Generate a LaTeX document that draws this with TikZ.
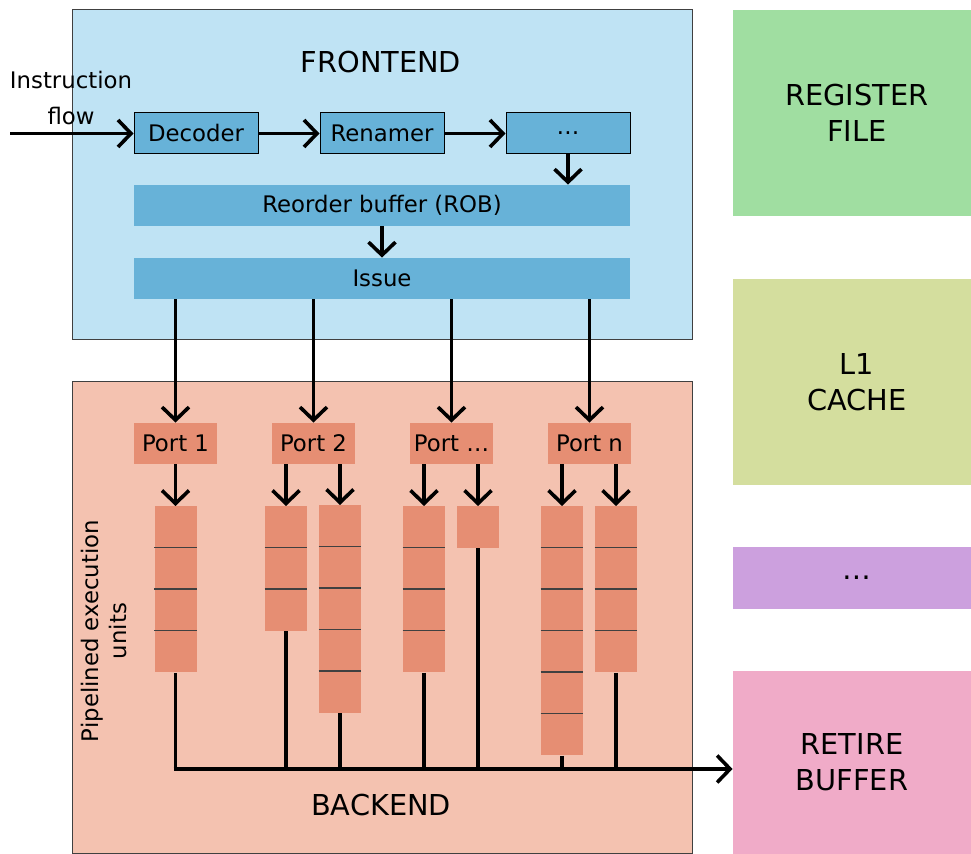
\documentclass[tikz,border=0pt]{standalone}
\usepackage{fontspec}
\setmainfont{DejaVu Sans}
\usetikzlibrary{arrows.meta}

\definecolor{frontbg}{HTML}{BFE3F4}
\definecolor{frontbox}{HTML}{67B2D8}
\definecolor{backbg}{HTML}{F4C2B0}
\definecolor{backbox}{HTML}{E68E73}
\definecolor{regcol}{HTML}{A0DEA1}
\definecolor{cachecol}{HTML}{D4DE9E}
\definecolor{morecol}{HTML}{CCA0DE}
\definecolor{retirecol}{HTML}{F0ABC8}

\tikzset{
  flowarrow/.style={line width=1.8pt, -{Straight Barb[length=6.5pt,width=13.5pt]}},
  busline/.style={line width=1.8pt},
  stageline/.style={draw=black!75, line width=0.6pt},
  small/.style={font=\fontsize{11.4}{18}\selectfont},
  big/.style={font=\fontsize{14.4}{18}\selectfont},
  region/.style={draw=black!75, line width=0.5pt, minimum width=310pt, inner sep=0},
  stagebox/.style={small, fill=frontbox, draw=black, line width=0.5pt, minimum width=62pt, minimum height=20.5pt, inner sep=0},
  widebox/.style={small, fill=frontbox, minimum width=248pt, minimum height=20.5pt, inner sep=0},
  portbox/.style={small, fill=backbox, minimum width=41.5pt, minimum height=20.5pt, inner sep=0},
  unit/.style={fill=backbox, minimum width=21pt, anchor=north, inner sep=0},
  sidebox/.style={big, align=center, minimum width=124pt, inner sep=0}
}

\begin{document}
\begin{tikzpicture}[x=0.5pt, y=-0.5pt]
  \useasboundingbox (0,0) rectangle (971,854);

  % frontend and backend regions
  \node[region, fill=frontbg, minimum height=165pt] (frontend) at (382,175) {};
  \node[region, fill=backbg, minimum height=236pt] (backend) at (382,618) {};
  \node[big] (fronttitle) at (381,62) {FRONTEND};
  \node[big] (backtitle) at (381,805) {BACKEND};

  % right column
  \node[sidebox, fill=regcol, minimum height=103pt] (regfile) at (857,113) {REGISTER\\FILE};
  \node[sidebox, fill=cachecol, minimum height=103pt] (cache) at (857,382) {L1\\CACHE};
  \node[sidebox, fill=morecol, minimum height=31pt] (more) at (857,578) {…};
  \node[sidebox, fill=retirecol, minimum height=91.5pt, minimum width=119pt] (retire) at (852,762.5) {RETIRE\\BUFFER};

  % frontend pipeline
  \node[small, align=center] (flowlabel) at (71,98) {Instruction\\flow};
  \coordinate (flowin) at (10,133.5);
  \node[stagebox] (decoder) at (196,133.5) {Decoder};
  \node[stagebox] (renamer) at (382,133.5) {Renamer};
  \node[stagebox] (more1) at (568,133.5) {…};
  \node[widebox] (rob) at (382,205.5) {Reorder buffer (ROB)};
  \node[widebox] (issue) at (382,278.5) {Issue};

  \draw[flowarrow] (flowin) -- (decoder.west);
  \draw[flowarrow] (decoder) -- (renamer);
  \draw[flowarrow] (renamer) -- (more1);
  \draw[flowarrow] (more1.south) -- (more1.south |- rob.north);
  \draw[flowarrow] (rob) -- (issue);

  % ports
  \node[portbox] (port1) at (175.5,443.5) {Port 1};
  \node[portbox] (port2) at (313.5,443.5) {Port 2};
  \node[portbox] (port3) at (451.5,443.5) {Port …};
  \node[portbox] (portn) at (589.5,443.5) {Port n};

  \foreach \p in {port1,port2,port3,portn}
    \draw[flowarrow] (\p.north |- issue.south) -- (\p.north);

  % execution units
  \node[unit, minimum height=83pt] (unit1) at (175.5,506) {};
  \node[unit, minimum height=62.25pt] (unit2a) at (286,506) {};
  \node[unit, minimum height=103.75pt] (unit2b) at (340,505) {};
  \node[unit, minimum height=83pt] (unit3a) at (424,506) {};
  \node[unit, minimum height=20.75pt] (unit3b) at (478,506) {};
  \node[unit, minimum height=124.5pt] (unitna) at (562,506) {};
  \node[unit, minimum height=83pt] (unitnb) at (616,506) {};

  \foreach \u/\n in {unit1/3, unit2a/2, unit2b/4, unit3a/3, unitna/5, unitnb/3}
    \foreach \k in {1,...,\n}
      \draw[stageline] ([yshift=-\k*20.75pt]\u.north west) -- ([yshift=-\k*20.75pt]\u.north east);

  \node[small, rotate=90, align=center, font=\fontsize{11.4}{14}\selectfont] (pipelabel) at (104,631) {Pipelined execution\\units};

  \draw[flowarrow] (port1.south) -- (unit1.north);
  \draw[flowarrow] (unit2a.north |- port2.south) -- (unit2a.north);
  \draw[flowarrow] (unit2b.north |- port2.south) -- (unit2b.north);
  \draw[flowarrow] (unit3a.north |- port3.south) -- (unit3a.north);
  \draw[flowarrow] (unit3b.north |- port3.south) -- (unit3b.north);
  \draw[flowarrow] (unitna.north |- portn.south) -- (unitna.north);
  \draw[flowarrow] (unitnb.north |- portn.south) -- (unitnb.north);

  % retire bus
  \coordinate (busstart) at (175.5,769);
  \foreach \u in {unit1,unit2a,unit2b,unit3a,unit3b,unitna,unitnb}
    \draw[busline] (\u.south) -- (\u.south |- busstart);
  \draw[flowarrow] ([xshift=-0.9pt]busstart) -- (busstart -| retire.west);

\end{tikzpicture}
\end{document}
